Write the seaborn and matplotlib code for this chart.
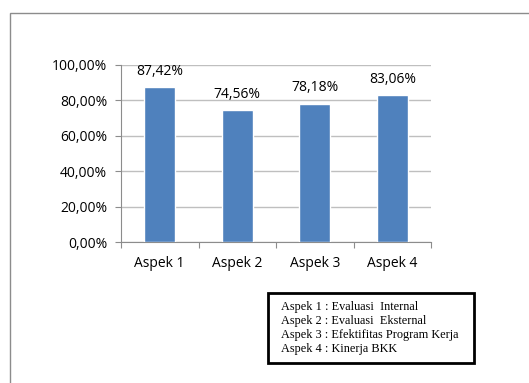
import matplotlib
matplotlib.use("Agg")
import matplotlib.pyplot as plt
import seaborn as sns
import pandas as pd
from matplotlib.patches import Rectangle

categories = ["Aspek 1", "Aspek 2", "Aspek 3", "Aspek 4"]
values = [87.42, 74.56, 78.18, 83.06]
value_labels = ["87,42%", "74,56%", "78,18%", "83,06%"]
yticks = [0, 20, 40, 60, 80, 100]
ytick_labels = ["0,00%", "20,00%", "40,00%", "60,00%", "80,00%", "100,00%"]
legend_lines = ["Aspek 1 : Evaluasi  Internal",
                "Aspek 2 : Evaluasi  Eksternal",
                "Aspek 3 : Efektifitas Program Kerja",
                "Aspek 4 : Kinerja BKK"]

sns.set_theme(style="white")
plt.rcParams['font.family'] = ['Open Sans', 'DejaVu Sans']

W, H = 529, 383
fig = plt.figure(figsize=(W / 100, H / 100), dpi=100)
fig.patch.set_facecolor("white")

# outer chart frame (partially cropped)
fig.patches.append(Rectangle((10 / W, -0.1), 1.2, 1 - 13 / H + 0.1, transform=fig.transFigure,
                             fill=False, edgecolor="#8c8c8c", linewidth=1.0, zorder=0))

ax = fig.add_axes([121 / W, 1 - 242 / H, (431 - 121) / W, (242 - 65) / H])
df = pd.DataFrame({"cat": categories, "val": values})
sns.barplot(data=df, x="cat", y="val", ax=ax, color="#4F81BD", width=0.4,
            saturation=1, zorder=3)

ax.set_xlim(-0.5, 3.5)
ax.set_ylim(0, 100)
ax.set_yticks(yticks)
ax.set_yticklabels(ytick_labels, fontsize=10, color="black")
ax.set_xlabel("")
ax.set_ylabel("")
ax.tick_params(axis="x", labelsize=10, colors="black", pad=10, length=0)
for lab in ax.get_xticklabels():
    lab.set_color("black")
ax.tick_params(axis="y", length=4, width=0.8, color="#8c8c8c", direction="out", pad=6, left=True)
ax.yaxis.grid(True, color="#bfbfbf", linewidth=1.0, zorder=0)
ax.set_axisbelow(True)
for s in ["top", "right"]:
    ax.spines[s].set_visible(False)
ax.spines["left"].set_color("#8c8c8c")
ax.spines["bottom"].set_color("#8c8c8c")
ax.spines["left"].set_linewidth(0.8)
ax.spines["bottom"].set_linewidth(0.8)

# category boundary tick marks
ax.set_xticks([0, 1, 2, 3], minor=False)
ax.set_xticks([-0.5, 0.5, 1.5, 2.5, 3.5], minor=True)
ax.tick_params(axis="x", which="minor", length=4, width=0.8, color="#8c8c8c", direction="out", bottom=True)

for i, (v, t) in enumerate(zip(values, value_labels)):
    ax.annotate(t, (i, v), xytext=(0, 6), textcoords="offset points",
                ha="center", va="bottom", fontsize=10, color="black")

# description box
fig.patches.append(Rectangle((268 / W, 1 - 363 / H), (474 - 268) / W, (363 - 293) / H,
                             transform=fig.transFigure, fill=False, edgecolor="black",
                             linewidth=2.0, zorder=5))
for k, line in enumerate(legend_lines):
    fig.text(281 / W, 1 - (307 + 14 * k) / H, line, fontsize=8.8,
             family=["Liberation Serif", "DejaVu Serif"], va="center", ha="left", color="black")

fig.savefig("out.png", dpi=100, facecolor="white")
